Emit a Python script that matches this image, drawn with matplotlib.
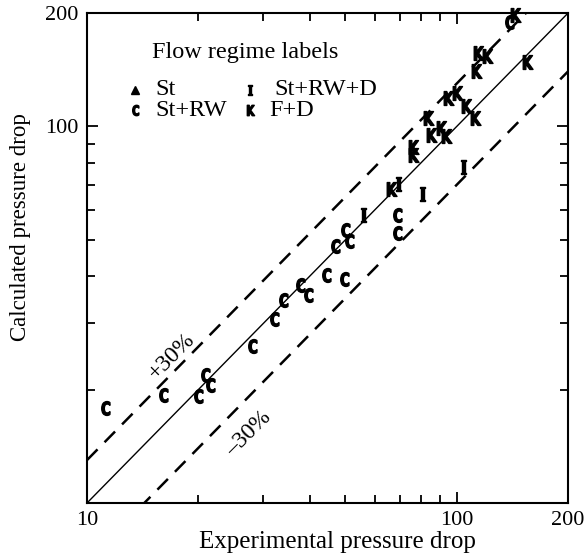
import numpy as np
import matplotlib
matplotlib.use("Agg")
import matplotlib.pyplot as plt
from matplotlib.ticker import FixedLocator, NullFormatter
from matplotlib.textpath import TextPath
from matplotlib.font_manager import FontProperties
from matplotlib.path import Path

plt.rcParams['font.family'] = ['Liberation Serif', 'DejaVu Serif']

# St+RW  (marker C)
c_exp = [11.2, 16.0, 20.8, 19.9, 21.5, 28.0, 32.0, 33.8, 37.6, 39.5, 44.2,
         49.4, 46.7, 49.7, 51.0, 68.9, 68.9, 138]
c_calc = [17.9, 19.4, 21.9, 19.2, 20.6, 26.1, 30.8, 34.5, 37.8, 35.6, 40.2,
          39.3, 48.2, 53.2, 49.7, 58.1, 52.2, 189]

# St+RW+D  (marker I)
i_exp = [55.8, 69.4, 80.6, 104]
i_calc = [58.3, 70.3, 66.1, 78.1]

# F+D  (marker K)
k_exp = [66.4, 76.2, 76.0, 83.8, 85.0, 90.4, 93.4, 94.6, 100, 106, 112,
         112.7, 114, 121, 155, 144]
k_calc = [68.1, 88.0, 84.0, 105, 95.0, 98.8, 94.0, 119, 123, 113, 105,
          140, 157, 154, 148, 198]

# St  (triangle) - no points in this plot
st_exp = []
st_calc = []

lo, hi = 10, 200


def letter(ch, family='DejaVu Sans'):
    # narrow bold letter used as a marker
    tp = TextPath((0, 0), ch, size=10,
                  prop=FontProperties(family=family, weight='bold'))
    v = tp.vertices.copy()
    v -= (v.min(axis=0) + v.max(axis=0)) / 2
    v[:, 0] *= 0.72
    return Path(v, tp.codes)


mk_c = letter('C')
mk_i = letter('I', 'DejaVu Serif')
mk_k = letter('K')

fig = plt.figure(figsize=(5.86, 5.6), dpi=100)
ax = fig.add_axes([0.1485, 0.1018, 0.821, 0.875])
ax.set_xscale('log')
ax.set_yscale('log')
ax.set_xlim(lo, hi)
ax.set_ylim(lo, hi)

# reference lines
xs = np.array([lo, hi])
ax.plot(xs, xs, color='black', lw=1.0)
ax.plot(xs, xs * 1.3, color='black', lw=1.8, ls=(0, (6, 4)))
ax.plot(xs, xs * 0.7, color='black', lw=1.8, ls=(0, (6, 4)))

ax.plot(c_exp, c_calc, ls='none', marker=mk_c, ms=10, color='black')
ax.plot(i_exp, i_calc, ls='none', marker=mk_i, ms=10, color='black')
ax.plot(k_exp, k_calc, ls='none', marker=mk_k, ms=10, color='black',
        clip_on=False)
ax.plot(st_exp, st_calc, ls='none', marker='^', ms=7, color='black')

ax.text(17.0, 24.5, '+30%', rotation=45, rotation_mode='anchor',
        ha='center', va='center', fontsize=17)
ax.text(27.4, 15.3, '\u201330%', rotation=45, rotation_mode='anchor',
        ha='center', va='center', fontsize=17)

# legend drawn by hand
ax.text(0.135, 0.920, 'Flow regime labels', transform=ax.transAxes,
        fontsize=17.5, va='center', ha='left')
leg = [(0.100, 0.843, '^', 'St', 0.143), (0.339, 0.843, mk_i, 'St+RW+D', 0.389),
       (0.100, 0.802, mk_c, 'St+RW', 0.143), (0.339, 0.802, mk_k, 'F+D', 0.379)]
for x0, y0, m, lab, xt in leg:
    ax.plot([x0], [y0], marker=m, ms=6 if isinstance(m, str) else 7.5,
            color='black', transform=ax.transAxes, ls='none')
    ax.text(xt, y0, lab, transform=ax.transAxes, fontsize=17.5,
            va='center', ha='left')

# ticks
ax.xaxis.set_major_locator(FixedLocator([10, 100, 200]))
ax.yaxis.set_major_locator(FixedLocator([100, 200]))
ax.set_xticklabels(['10', '100', '200'])
ax.set_yticklabels(['100', '200'])
minors = [20, 30, 40, 50, 60, 70, 80, 90]
ax.xaxis.set_minor_locator(FixedLocator(minors))
ax.yaxis.set_minor_locator(FixedLocator(minors))
ax.xaxis.set_minor_formatter(NullFormatter())
ax.yaxis.set_minor_formatter(NullFormatter())
ax.tick_params(which='both', direction='in', top=True, right=True,
               labelsize=16, width=1.3)
ax.tick_params(which='major', length=8, pad=6)
ax.tick_params(which='minor', length=6)
for s in ax.spines.values():
    s.set_linewidth(1.5)

ax.set_xlabel('Experimental pressure drop', fontsize=18)
ax.set_ylabel('Calculated pressure drop', fontsize=16.5)
ax.xaxis.set_label_coords(0.52, -0.058)
ax.yaxis.set_label_coords(-0.116, 0.563)

fig.savefig('out.png', dpi=100)
